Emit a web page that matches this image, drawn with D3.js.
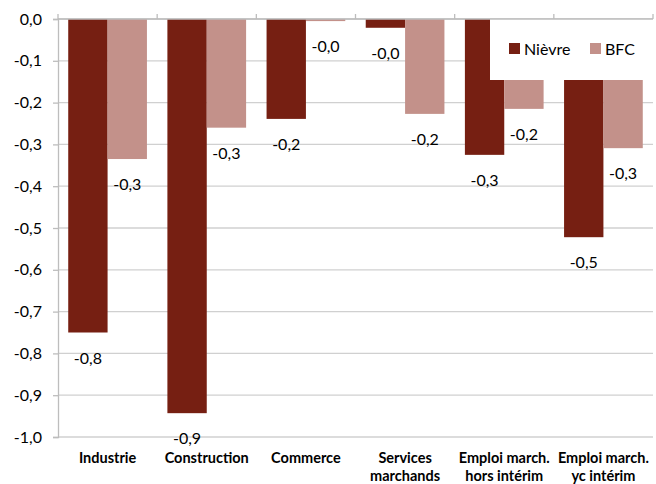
<!DOCTYPE html>
<html><head><meta charset="utf-8">
<script src="https://cdn.jsdelivr.net/npm/d3@7"></script>
<style>body{margin:0;background:#fff}svg{display:block}</style>
</head><body>
<script>
const categories = [["Industrie"],["Construction"],["Commerce"],["Services","marchands"],["Emploi march.","hors intérim"],["Emploi march.","yc intérim"]];
const seriesNames = ["Nièvre","BFC"];
const nievre = [-0.75,-0.943,-0.239,-0.021,-0.325,-0.522];
const bfc = [-0.335,-0.26,-0.005,-0.227,-0.215,-0.309];
const yTicks = [0,-0.1,-0.2,-0.3,-0.4,-0.5,-0.6,-0.7,-0.8,-0.9,-1.0];
const colors = ["#761f12","#c3918a"];

const fmt = d => (d<0?"-":"") + Math.abs(d).toFixed(1).replace(".",",");

const W=656,H=484;
const svg=d3.select("body").append("svg").attr("width",W).attr("height",H);
const font="Lato, 'Open Sans', sans-serif";
const x=d3.scaleBand().domain(d3.range(categories.length)).range([58,653]);
const x1=d3.scaleBand().domain([0,1]).range([0,x.bandwidth()]).paddingOuter(0.26).paddingInner(0);
const y=d3.scaleLinear().domain([-1,0]).range([437,19]);

// gridlines
svg.append("g").selectAll("line").data(yTicks).join("line")
 .attr("x1",58).attr("x2",653).attr("y1",d=>y(d)).attr("y2",d=>y(d))
 .attr("stroke","#d0d0d0").attr("stroke-width",1.3);

const data=[nievre,bfc];
const g=svg.append("g");
data.forEach((vals,s)=>{
 g.selectAll(null).data(vals).join("rect")
  .attr("x",(d,i)=>x(i)+x1(s)).attr("width",x1.bandwidth())
  .attr("y",y(0)).attr("height",d=>y(d)-y(0)).attr("fill",colors[s]);
});

// legend box
const lg=svg.append("g");
lg.append("rect").attr("x",490).attr("y",19).attr("width",163).attr("height",61).attr("fill","#fff");
seriesNames.forEach((n,i)=>{
 const lx=[509,590][i];
 lg.append("rect").attr("x",lx).attr("y",43).attr("width",11).attr("height",11).attr("fill",colors[i]);
 lg.append("text").attr("x",lx+15).attr("y",55).attr("font-family",font).attr("font-size",16).text(n);
});

// y axis
const ya=svg.append("g").attr("transform","translate(58,0)")
 .call(d3.axisLeft(y).tickValues(yTicks).tickSize(5).tickFormat(fmt));
ya.select(".domain").attr("stroke","#bdbdbd").attr("stroke-width",1.3);
ya.selectAll(".tick line").attr("stroke","#bdbdbd").attr("stroke-width",1.3);
ya.selectAll("text").attr("font-family",font).attr("font-size",16).attr("fill","#000").attr("x",-16);

// top x axis line with ticks
svg.append("line").attr("x1",58).attr("x2",653).attr("y1",y(0)).attr("y2",y(0)).attr("stroke","#bdbdbd").attr("stroke-width",1.3);
svg.append("g").selectAll("line").data(d3.range(categories.length+1)).join("line")
 .attr("x1",i=>i<categories.length?x(i):x.range()[1]).attr("x2",i=>i<categories.length?x(i):x.range()[1])
 .attr("y1",y(0)).attr("y2",y(0)-5).attr("stroke","#bdbdbd").attr("stroke-width",1.3);

// data labels
data.forEach((vals,s)=>{
 g.selectAll(null).data(vals).join("text")
  .attr("x",(d,i)=>x(i)+x1(s)+x1.bandwidth()/2).attr("y",d=>y(d)+31)
  .attr("text-anchor","middle").attr("font-family",font).attr("font-size",16)
  .text(fmt);
});

// category labels
categories.forEach((lines,i)=>{
 const t=svg.append("text").attr("text-anchor","middle").attr("font-family",font).attr("font-size",14.5).attr("font-weight","bold");
 lines.forEach((l,j)=>t.append("tspan").attr("x",x(i)+x.bandwidth()/2).attr("y",463+j*18).text(l));
});
</script>
</body></html>
